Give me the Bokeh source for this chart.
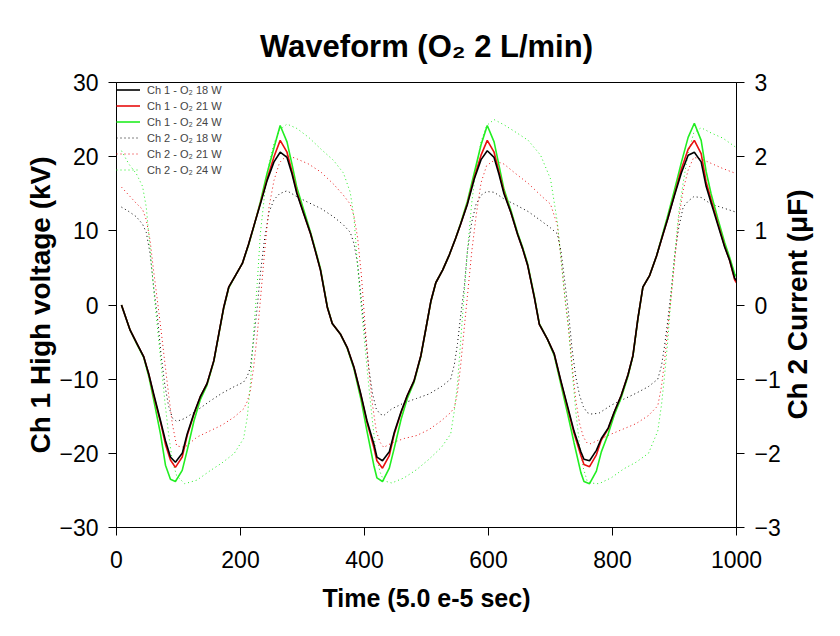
import math
from bokeh.plotting import figure
from bokeh.models import Range1d, LinearAxis, Legend, LegendItem, SingleIntervalTicker, Label
from bokeh.embed import file_html
from bokeh.resources import INLINE

# ---------------- data ----------------
# Ch 1 high voltage (kV), left axis
ch1_x = [8, 22, 33, 44, 52, 60, 71, 79, 87,
         95, 106, 114, 125, 135, 146, 157, 165, 173, 181, 192, 203, 213, 221, 232, 243, 254, 264, 275, 283, 291,
         302, 313, 321, 329, 340, 348, 361, 372, 383, 394, 404, 415, 420,
         429, 440, 448, 459, 469, 480, 491, 499, 507, 515, 526, 537, 547, 555, 566, 577, 588, 598, 609, 617, 625,
         636, 647, 655, 663, 674, 682, 695, 706, 717, 728, 738, 749, 754,
         763, 774, 782, 793, 803, 814, 825, 833, 841, 849, 860, 871, 881, 889, 900, 911, 922, 932, 943, 951, 959,
         970, 981, 989, 997, 1000]

ch1_18w = [0.0, -3.4, -5.2, -7.0, -9.3, -12.0, -15.6, -18.3, -20.5,
           -21.2, -20.0, -17.4, -14.6, -12.4, -10.6, -7.5, -3.9, -0.3, 2.4, 4.0, 5.6, 8.2, 10.5, 13.6, 16.8, 19.3,
           20.6, 19.9, 17.7, 15.0, 12.3, 9.6, 7.2, 4.7, -0.3, -2.5, -3.9, -5.7, -8.4, -12.0, -15.6, -18.7, -20.5,
           -21.0, -19.8, -17.2, -14.4, -12.2, -10.2, -6.8, -3.2, 0.5, 3.0, 4.7, 6.8, 9.0, 10.9, 13.6, 17.0, 19.6,
           20.8, 19.9, 17.6, 15.0, 12.5, 9.5, 7.6, 5.4, 1.0, -2.6, -4.6, -6.6, -10.3, -13.8, -17.0, -19.8, -20.8,
           -21.0, -19.6, -18.0, -16.6, -14.4, -12.2, -9.4, -6.8, -1.8, 2.4, 4.0, 6.6, 9.4, 11.6, 14.8, 17.8, 20.2,
           20.6, 19.3, 16.0, 13.8, 10.8, 7.8, 6.0, 3.6, 3.3]

ch1_21w = [0.0, -3.4, -5.2, -7.0, -9.3, -12.2, -15.8, -18.8, -20.9,
           -21.9, -20.5, -17.6, -14.7, -12.4, -10.6, -7.5, -3.9, -0.3, 2.4, 4.0, 5.6, 8.2, 10.5, 13.7, 17.0, 20.0,
           22.2, 20.6, 18.0, 15.2, 12.3, 9.6, 7.2, 4.7, -0.3, -2.5, -3.9, -5.7, -8.4, -12.1, -15.8, -19.2, -21.0,
           -22.0, -20.3, -17.4, -14.5, -12.2, -10.2, -6.8, -3.2, 0.5, 3.0, 4.7, 6.8, 9.0, 10.9, 13.7, 17.2, 20.2,
           22.2, 20.6, 17.9, 15.2, 12.5, 9.5, 7.6, 5.4, 1.0, -2.6, -4.6, -6.6, -10.4, -14.0, -17.3, -20.3, -21.5,
           -21.8, -20.2, -18.2, -16.7, -14.4, -12.2, -9.4, -6.8, -1.8, 2.4, 4.0, 6.6, 9.4, 11.6, 14.9, 18.3, 21.0,
           22.2, 20.4, 16.6, 14.2, 11.0, 7.9, 6.0, 3.4, 3.0]

ch1_24w = [0.0, -3.4, -5.3, -7.1, -9.6, -12.8, -17.4, -21.6, -23.5,
           -23.8, -22.3, -19.6, -15.6, -12.8, -10.8, -7.6, -4.0, -0.4, 2.3, 4.0, 5.6, 8.1, 10.4, 13.9, 17.8, 21.2,
           24.2, 22.0, 19.0, 15.8, 12.8, 9.8, 7.4, 4.9, -0.2, -2.5, -3.9, -5.8, -8.6, -12.6, -17.0, -21.6, -23.3,
           -23.8, -22.0, -19.3, -15.4, -12.6, -10.4, -6.9, -3.2, 0.4, 3.0, 4.7, 6.8, 9.0, 11.0, 14.0, 17.8, 21.6,
           24.2, 22.0, 18.8, 15.6, 12.8, 9.7, 7.8, 5.6, 1.2, -2.5, -4.6, -6.8, -10.8, -14.8, -18.6, -22.6, -23.8,
           -24.1, -22.4, -19.8, -17.4, -14.8, -12.5, -9.6, -6.9, -1.9, 2.4, 4.0, 6.6, 9.6, 12.0, 15.5, 19.2, 22.6,
           24.5, 22.2, 18.0, 15.0, 11.6, 8.4, 6.4, 4.2, 3.8]

# Ch 2 current, right axis
ch2_x = [8, 20, 32, 42, 48, 54, 60, 66, 72, 78, 84, 90,
         97, 110, 130, 150, 170, 190, 205, 211, 216, 221, 227, 232, 239, 246, 254, 263, 275, 291, 310, 330,
         350, 366, 377, 383, 389, 395, 401, 407, 413, 419, 425,
         431, 444, 464, 484, 504, 524, 539, 545, 550, 555, 561, 566, 573, 580, 588, 597, 609, 625, 644, 664,
         684, 700, 711, 717, 723, 729, 735, 741, 747, 753, 759,
         765, 778, 798, 818, 838, 858, 873, 879, 884, 889, 895, 900, 907, 914, 922, 931, 943, 959, 978, 1000]

ch2_18w = [1.32, 1.26, 1.19, 1.09, 0.98, 0.70, 0.24, -0.16, -0.68, -1.08, -1.36, -1.52,
           -1.57, -1.53, -1.42, -1.30, -1.19, -1.10, -1.04, -0.96, -0.84, -0.48, -0.03, 0.42, 0.90, 1.25, 1.42,
           1.50, 1.54, 1.46, 1.38, 1.30, 1.19, 1.08, 0.98, 0.83, 0.55, 0.05, -0.40, -0.85, -1.20, -1.40, -1.47,
           -1.49, -1.40, -1.32, -1.26, -1.20, -1.10, -1.00, -0.80, -0.52, -0.15, 0.25, 0.73, 1.12, 1.36, 1.48,
           1.53, 1.52, 1.43, 1.35, 1.26, 1.14, 1.04, 0.96, 0.72, 0.32, -0.10, -0.61, -0.98, -1.22, -1.37, -1.45,
           -1.47, -1.46, -1.35, -1.27, -1.19, -1.10, -1.00, -0.82, -0.55, -0.22, 0.22, 0.65, 1.05, 1.32, 1.40,
           1.46, 1.45, 1.36, 1.31, 1.25]

ch2_21w = [1.59, 1.48, 1.37, 1.29, 1.15, 0.88, 0.45, 0.06, -0.35, -0.78, -1.20, -1.60,
           -1.90, -1.92, -1.78, -1.70, -1.62, -1.51, -1.40, -1.30, -1.15, -0.85, -0.40, 0.06, 0.73, 1.32, 1.68,
           1.92, 2.02, 1.97, 1.90, 1.79, 1.63, 1.48, 1.36, 1.20, 0.90, 0.40, -0.28, -0.88, -1.35, -1.70, -1.85,
           -1.92, -1.86, -1.80, -1.76, -1.68, -1.56, -1.45, -1.38, -1.18, -0.82, -0.30, 0.12, 0.72, 1.20, 1.65,
           1.88, 1.95, 1.90, 1.77, 1.64, 1.48, 1.36, 1.08, 0.62, 0.12, -0.30, -0.82, -1.30, -1.60, -1.78, -1.86,
           -1.87, -1.82, -1.74, -1.67, -1.60, -1.49, -1.36, -1.10, -0.75, -0.33, 0.14, 0.57, 1.18, 1.55, 1.82,
           1.99, 1.97, 1.91, 1.84, 1.77]

ch2_24w = [2.08, 1.90, 1.77, 1.60, 1.32, 0.78, 0.20, -0.30, -0.80, -1.30, -1.74, -2.10,
           -2.30, -2.41, -2.36, -2.24, -2.13, -2.00, -1.80, -1.51, -1.06, -0.39, 0.29, 0.96, 1.50, 1.90, 2.18,
           2.36, 2.44, 2.38, 2.26, 2.10, 1.95, 1.78, 1.52, 1.18, 0.51, -0.05, -0.58, -1.10, -1.58, -2.03, -2.25,
           -2.37, -2.40, -2.33, -2.22, -2.08, -1.92, -1.74, -1.42, -1.06, -0.50, 0.18, 0.72, 1.38, 1.85, 2.20,
           2.42, 2.50, 2.43, 2.33, 2.22, 2.02, 1.70, 1.12, 0.62, 0.12, -0.30, -0.90, -1.45, -1.90, -2.20, -2.37,
           -2.40, -2.41, -2.33, -2.21, -2.12, -2.00, -1.70, -1.35, -0.95, -0.50, 0.18, 0.65, 1.25, 1.65, 2.05,
           2.32, 2.39, 2.32, 2.25, 2.12]

legend_labels = ["Ch 1 - O\u2082 18 W", "Ch 1 - O\u2082 21 W", "Ch 1 - O\u2082 24 W",
                 "Ch 2 - O\u2082 18 W", "Ch 2 - O\u2082 21 W", "Ch 2 - O\u2082 24 W"]
title_text = "Waveform (O\u2082 2 L/min)"
x_label = "Time (5.0 e-5 sec)"
y_label = "Ch 1 High voltage (kV)"
y2_label = "Ch 2 Current (\u03bcF)"

# ---------------- figure ----------------
FONT = "Liberation Sans"
BLACK, RED, GREEN = "#000000", "#e81010", "#22ee22"

p = figure(width=840, height=636, output_backend="svg", toolbar_location=None,
           x_range=Range1d(0, 1000), y_range=Range1d(-30, 30),
           min_border_left=116, min_border_right=104, min_border_top=82, min_border_bottom=109,
           background_fill_color="white", border_fill_color="white")
p.extra_y_ranges = {"right": Range1d(-3, 3)}

p.title.text = title_text
p.title.align = "center"
p.title.text_font = FONT
p.title.text_font_size = "31px"
p.title.text_font_style = "bold"
p.title.text_color = "black"
p.title.standoff = 38

p.xgrid.visible = False
p.ygrid.visible = False
p.outline_line_color = "black"
p.outline_line_width = 1
p.outline_line_alpha = 1

# Ch2 dotted lines first (underneath)
d18 = p.line(ch2_x, ch2_18w, y_range_name="right", line_color=BLACK, line_width=1, line_dash="1 3")
d21 = p.line(ch2_x, ch2_21w, y_range_name="right", line_color=RED, line_width=1, line_dash="1 3")
d24 = p.line(ch2_x, ch2_24w, y_range_name="right", line_color=GREEN, line_width=1, line_dash="1 3")
# Ch1 solid lines
s24 = p.line(ch1_x, ch1_24w, line_color=GREEN, line_width=1.6)
s21 = p.line(ch1_x, ch1_21w, line_color=RED, line_width=1.6)
s18 = p.line(ch1_x, ch1_18w, line_color=BLACK, line_width=1.6)

right_axis = LinearAxis(y_range_name="right", ticker=SingleIntervalTicker(interval=1))
p.add_layout(right_axis, "right")

# right-hand axis title in its own side panel, reading bottom-to-top
right_title = Label(text=y2_label, x=14, y=223, x_units="screen", y_units="screen",
                    angle=math.pi / 2, angle_units="rad", text_align="center", text_baseline="middle",
                    text_font=FONT, text_font_size="28px", text_font_style="bold", text_color="black")
p.add_layout(right_title, "right")

p.xaxis.ticker = SingleIntervalTicker(interval=200)
p.yaxis.ticker = SingleIntervalTicker(interval=10)
right_axis.ticker = SingleIntervalTicker(interval=1)

p.xaxis[0].axis_label = x_label
p.yaxis[0].axis_label = y_label

for ax in [p.xaxis[0], p.yaxis[0], right_axis]:
    ax.axis_line_color = "black"
    ax.axis_line_width = 1
    ax.major_tick_out = 8
    ax.major_tick_in = 0
    ax.major_tick_line_color = "black"
    ax.minor_tick_line_color = None
    ax.major_label_text_font = FONT
    ax.major_label_text_font_size = "23px"
    ax.major_label_text_color = "black"
    ax.major_label_standoff = 10
    ax.axis_label_text_font = FONT
    ax.axis_label_text_font_style = "bold"
    ax.axis_label_text_color = "black"

p.xaxis[0].major_label_standoff = 15
p.yaxis[0].axis_label_text_font_size = "28px"
p.xaxis[0].axis_label_text_font_size = "25px"
p.yaxis[0].axis_label_standoff = 0
p.xaxis[0].axis_label_standoff = 13

legend = Legend(items=[LegendItem(label=legend_labels[0], renderers=[s18]),
                       LegendItem(label=legend_labels[1], renderers=[s21]),
                       LegendItem(label=legend_labels[2], renderers=[s24]),
                       LegendItem(label=legend_labels[3], renderers=[d18]),
                       LegendItem(label=legend_labels[4], renderers=[d21]),
                       LegendItem(label=legend_labels[5], renderers=[d24])],
                location="top_left", label_text_font=FONT, label_text_font_size="11px",
                glyph_width=24, glyph_height=15, label_height=15, spacing=1,
                padding=8, margin=0, label_standoff=7,
                border_line_color=None, background_fill_alpha=0)
p.add_layout(legend)

open("out.html", "w").write(file_html(p, INLINE))
